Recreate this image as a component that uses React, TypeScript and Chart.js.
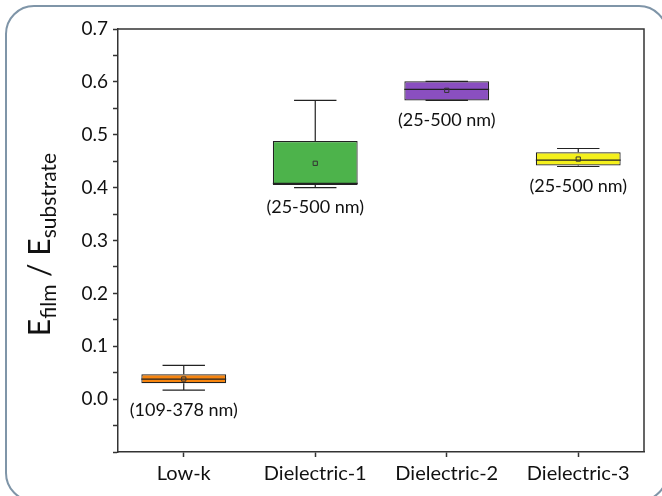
import React, { useEffect, useRef } from 'react';
import { Chart, registerables } from 'chart.js';

Chart.register(...registerables);

const categories = ['Low-k', 'Dielectric-1', 'Dielectric-2', 'Dielectric-3'];
const whiskerMin = [0.017, 0.4, 0.565, 0.44];
const q1 = [0.03, 0.405, 0.565, 0.442];
const median = [0.038, 0.408, 0.586, 0.452];
const q3 = [0.047, 0.488, 0.601, 0.467];
const whiskerMax = [0.064, 0.565, 0.601, 0.474];
const mean = [0.038, 0.446, 0.584, 0.454];
const rangeLabels = ['(109-378 nm)', '(25-500 nm)', '(25-500 nm)', '(25-500 nm)'];
const boxColors = ['#f7850f', '#4db34b', '#8a4fc0', '#f4f01c'];

const FONT = 'Lato, "Open Sans", sans-serif';
const AXIS = '#333333';

const boxPlugin = {
  id: 'boxExtras',
  afterDatasetDraw(chart: any, args: any) {
    if (args.index !== 0) return;
    const ctx = chart.ctx;
    const xs = chart.scales.x;
    const ys = chart.scales.y;
    const meta = chart.getDatasetMeta(0);
    ctx.save();
    ctx.strokeStyle = '#222';
    ctx.lineWidth = 1.2;
    categories.forEach((_, i) => {
      const bar = meta.data[i];
      const w = bar.width;
      const cx = xs.getPixelForValue(i);
      const yMin = ys.getPixelForValue(whiskerMin[i]);
      const yMax = ys.getPixelForValue(whiskerMax[i]);
      const yQ1 = ys.getPixelForValue(q1[i]);
      const yQ3 = ys.getPixelForValue(q3[i]);
      const yMed = ys.getPixelForValue(median[i]);
      ctx.beginPath();
      ctx.moveTo(cx, yQ3);
      ctx.lineTo(cx, yMax);
      ctx.moveTo(cx, yQ1);
      ctx.lineTo(cx, yMin);
      ctx.moveTo(cx - w / 4, yMax);
      ctx.lineTo(cx + w / 4, yMax);
      ctx.moveTo(cx - w / 4, yMin);
      ctx.lineTo(cx + w / 4, yMin);
      ctx.moveTo(cx - w / 2, yMed);
      ctx.lineTo(cx + w / 2, yMed);
      ctx.stroke();
    });
    ctx.restore();
  },
  afterDatasetsDraw(chart: any) {
    const ctx = chart.ctx;
    const xs = chart.scales.x;
    const ys = chart.scales.y;
    ctx.save();
    ctx.fillStyle = '#111';
    ctx.font = `18px ${FONT}`;
    ctx.textAlign = 'center';
    ctx.textBaseline = 'middle';
    categories.forEach((_, i) => {
      const cx = xs.getPixelForValue(i);
      const y = ys.getPixelForValue(whiskerMin[i]) + 20;
      ctx.fillText(rangeLabels[i], cx, y);
    });
    ctx.restore();
  },
};

const framePlugin = {
  id: 'frame',
  beforeDraw(chart: any) {
    const ctx = chart.ctx;
    ctx.save();
    ctx.strokeStyle = '#7f95a8';
    ctx.lineWidth = 2;
    ctx.beginPath();
    (ctx as any).roundRect(6, 6, 661, 495, 28);
    ctx.stroke();
    ctx.restore();
  },
  afterDraw(chart: any) {
    const ctx = chart.ctx;
    const a = chart.chartArea;
    ctx.save();
    ctx.strokeStyle = AXIS;
    ctx.lineWidth = 1.5;
    ctx.beginPath();
    ctx.moveTo(a.left, a.top);
    ctx.lineTo(a.right, a.top);
    ctx.lineTo(a.right, a.bottom);
    ctx.stroke();

    // y-axis title with subscripts
    const big = `30px ${FONT}`;
    const small = `21px ${FONT}`;
    const parts = [
      { t: 'E', f: big, dy: 0 },
      { t: 'film', f: small, dy: 6 },
      { t: ' / E', f: big, dy: 0 },
      { t: 'substrate', f: small, dy: 6 },
    ];
    let total = 0;
    parts.forEach((p) => {
      ctx.font = p.f;
      total += ctx.measureText(p.t).width;
    });
    const cy = (a.top + a.bottom) / 2 + 4;
    ctx.translate(a.left - 68, cy);
    ctx.rotate(-Math.PI / 2);
    ctx.fillStyle = '#111';
    ctx.textBaseline = 'alphabetic';
    ctx.textAlign = 'left';
    let x = -total / 2;
    parts.forEach((p) => {
      ctx.font = p.f;
      ctx.fillText(p.t, x, p.dy);
      x += ctx.measureText(p.t).width;
    });
    ctx.restore();
  },
};

export default function App() {
  const ref = useRef<HTMLCanvasElement | null>(null);
  useEffect(() => {
    document.body.style.margin = '0';
    const canvas = ref.current;
    if (!canvas) return;
    const chart = new Chart(canvas, {
      type: 'bar',
      data: {
        labels: categories,
        datasets: [
          {
            type: 'bar',
            data: q1.map((v, i) => [v, q3[i]]) as any,
            backgroundColor: boxColors,
            borderColor: '#222',
            borderWidth: 1.2,
            borderSkipped: false,
            categoryPercentage: 1,
            barPercentage: 0.645,
            order: 2,
          } as any,
          {
            type: 'line',
            data: mean,
            showLine: false,
            pointStyle: 'rect',
            pointRadius: 3,
            pointBorderWidth: 1,
            pointBorderColor: '#333',
            pointBackgroundColor: 'rgba(0,0,0,0)',
            order: 1,
          } as any,
        ],
      },
      options: {
        animation: false,
        responsive: false,
        events: [],
        layout: { padding: { top: 29, right: 18, left: 0, bottom: 0 } },
        plugins: { legend: { display: false }, tooltip: { enabled: false } },
        scales: {
          x: {
            offset: true,
            grid: { drawOnChartArea: false, offset: false, tickLength: 5, color: AXIS, tickWidth: 1.5 },
            border: { display: true, color: AXIS, width: 1.5 },
            ticks: { color: '#111', font: { family: FONT, size: 20 }, padding: 5 },
            afterFit(scale: any) {
              scale.height = 44;
            },
          },
          y: {
            min: -0.1,
            max: 0.7,
            grid: { drawOnChartArea: false, tickLength: 5, color: AXIS, tickWidth: 1.5 },
            border: { display: true, color: AXIS, width: 1.5 },
            ticks: {
              stepSize: 0.05,
              autoSkip: false,
              color: '#111',
              font: { family: FONT, size: 19 },
              padding: 5,
              callback(value: any) {
                const v = Math.round(Number(value) * 100);
                if (v < 0 || v % 10 !== 0) return '';
                return (v / 100).toFixed(1);
              },
            },
            afterFit(scale: any) {
              scale.width = 118;
            },
          },
        },
      },
      plugins: [boxPlugin, framePlugin],
    });
    return () => chart.destroy();
  }, []);
  return <canvas ref={ref} width={662} height={496} style={{ display: 'block' }} />;
}
